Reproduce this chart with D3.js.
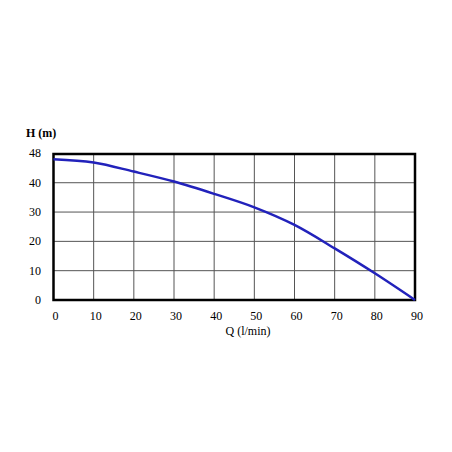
<!DOCTYPE html><html><head><script src="https://d3js.org/d3.v7.min.js"></script>
<style>body{margin:0;background:#fff}</style></head><body><svg id="c" width="452" height="452"></svg>
<script>
const flowQ=[0,10,20,30,40,50,60,70,80,90];
const headH=[48,46.9,43.8,40.4,36.2,31.6,25.6,17.6,9.1,0];
const xTicks=[0,10,20,30,40,50,60,70,80,90];
const yTicks=[0,10,20,30,40];
const svg=d3.select("#c");
const L=53.5,R=415,T=154,B=300;
const x=d3.scaleLinear().domain([0,90]).range([L,R]);
const y=d3.scaleLinear().domain([0,49.8]).range([B,T]);
const g=svg.append("g");
g.selectAll(".vx").data(xTicks.slice(1,-1)).join("line").attr("x1",x).attr("x2",x).attr("y1",T).attr("y2",B).attr("stroke","#555").attr("stroke-width",1);
g.selectAll(".hy").data(yTicks.slice(1)).join("line").attr("y1",y).attr("y2",y).attr("x1",L).attr("x2",R).attr("stroke","#555").attr("stroke-width",1);
g.append("rect").attr("x",L).attr("y",T).attr("width",R-L).attr("height",B-T).attr("fill","none").attr("stroke","#000").attr("stroke-width",2.5);
const f="Liberation Serif, serif";
g.selectAll(".xl").data(xTicks).join("text").attr("x",d=>x(d)+2).attr("y",320).attr("text-anchor","middle").attr("font-family",f).attr("font-size",12).text(d=>d);
g.selectAll(".yl").data(yTicks).join("text").attr("x",41).attr("y",d=>y(d)+4).attr("text-anchor","end").attr("font-family",f).attr("font-size",12).text(d=>d);
g.append("text").attr("x",41).attr("y",T+3).attr("text-anchor","end").attr("font-family",f).attr("font-size",12).text("48");
g.append("text").attr("x",26).attr("y",137).attr("font-family",f).attr("font-size",12).attr("font-weight","bold").text("H (m)");
g.append("text").attr("x",248).attr("y",335).attr("text-anchor","middle").attr("font-family",f).attr("font-size",12).text("Q (l/min)");
const line=d3.line().x((d,i)=>x(flowQ[i])).y(d=>y(d)).curve(d3.curveMonotoneX);
g.append("path").datum(headH).attr("d",line).attr("fill","none").attr("stroke","#2222bb").attr("stroke-width",2.5);
</script></body></html>
